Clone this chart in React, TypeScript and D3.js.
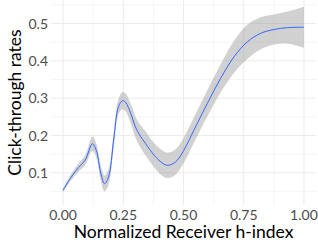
import { useMemo } from 'react'
import * as d3 from 'd3'

// smoothed fit
const hIndex = [0, 0.029, 0.064, 0.092, 0.122, 0.14, 0.154, 0.172, 0.189, 0.21, 0.23, 0.246, 0.258, 0.286, 0.3, 0.321, 0.342, 0.3625, 0.397, 0.432, 0.467, 0.501, 0.543, 0.599, 0.654, 0.71, 0.765, 0.821, 0.876, 0.932, 1.0]
const ctr = [0.053, 0.084, 0.114, 0.134, 0.178, 0.156, 0.107, 0.071, 0.089, 0.187, 0.277, 0.293, 0.29, 0.25, 0.223, 0.198, 0.179, 0.16, 0.134, 0.12, 0.129, 0.16, 0.214, 0.286, 0.353, 0.411, 0.451, 0.474, 0.484, 0.489, 0.49]
const se = [0.005, 0.008, 0.011, 0.013, 0.019, 0.019, 0.02, 0.021, 0.021, 0.021, 0.021, 0.023, 0.024, 0.027, 0.028, 0.03, 0.032, 0.032, 0.034, 0.034, 0.034, 0.034, 0.034, 0.035, 0.038, 0.043, 0.046, 0.043, 0.040, 0.043, 0.055]

const xTicks = [0, 0.25, 0.5, 0.75, 1]
const xMinor = [0.125, 0.375, 0.625, 0.875]
const yTicks = [0.1, 0.2, 0.3, 0.4, 0.5]
const yMinor = [0.05, 0.15, 0.25, 0.35, 0.45, 0.55]

const W = 318
const H = 246
const panel = { left: 51, right: 316, top: 0, bottom: 205 }

export default function App() {
  const x = d3.scaleLinear().domain([-0.05, 1.05]).range([panel.left, panel.right])
  const y = d3.scaleLinear().domain([0.0136, 0.5631]).range([panel.bottom, panel.top])

  const pts = useMemo(() => hIndex.map((h, i) => ({ h, v: ctr[i], s: se[i] })), [])

  const line = d3.line<{ h: number; v: number; s: number }>()
    .x(d => x(d.h))
    .y(d => y(d.v))
    .curve(d3.curveCatmullRom.alpha(0.5))

  const band = d3.area<{ h: number; v: number; s: number }>()
    .x(d => x(d.h))
    .y0(d => y(d.v - d.s))
    .y1(d => y(d.v + d.s))
    .curve(d3.curveCatmullRom.alpha(0.5))

  const font = 'Lato, sans-serif'

  return (
    <svg width={W} height={H} style={{ position: 'absolute', left: 0, top: 0 }} fontFamily={font}>
      <rect width={W} height={H} fill="white" />
      {yMinor.map(t => (
        <line key={'ym' + t} x1={panel.left} x2={panel.right} y1={y(t)} y2={y(t)} stroke="#ebebeb" strokeWidth={0.5} />
      ))}
      {xMinor.map(t => (
        <line key={'xm' + t} x1={x(t)} x2={x(t)} y1={panel.top} y2={panel.bottom} stroke="#ebebeb" strokeWidth={0.5} />
      ))}
      {yTicks.map(t => (
        <line key={'y' + t} x1={panel.left} x2={panel.right} y1={y(t)} y2={y(t)} stroke="#ebebeb" strokeWidth={1} />
      ))}
      {xTicks.map(t => (
        <line key={'x' + t} x1={x(t)} x2={x(t)} y1={panel.top} y2={panel.bottom} stroke="#ebebeb" strokeWidth={1} />
      ))}

      <path d={band(pts) ?? ''} fill="#999999" fillOpacity={0.45} />
      <path d={line(pts) ?? ''} fill="none" stroke="#3366FF" strokeWidth={1} />

      {xTicks.map(t => (
        <text key={'xl' + t} x={x(t)} y={220} textAnchor="middle" fontSize={14} fill="#4d4d4d">
          {t.toFixed(2)}
        </text>
      ))}
      {yTicks.map(t => (
        <text key={'yl' + t} x={48} y={y(t)} dy="0.36em" textAnchor="end" fontSize={14} fill="#4d4d4d">
          {t.toFixed(1)}
        </text>
      ))}

      <text x={(panel.left + panel.right) / 2} y={238} textAnchor="middle" fontSize={17.5} fill="black">
        Normalized Receiver h-index
      </text>
      <text transform={`translate(21,${(panel.top + panel.bottom) / 2}) rotate(-90)`} textAnchor="middle" fontSize={17.5} fill="black">
        Click-through rates
      </text>
    </svg>
  )
}
